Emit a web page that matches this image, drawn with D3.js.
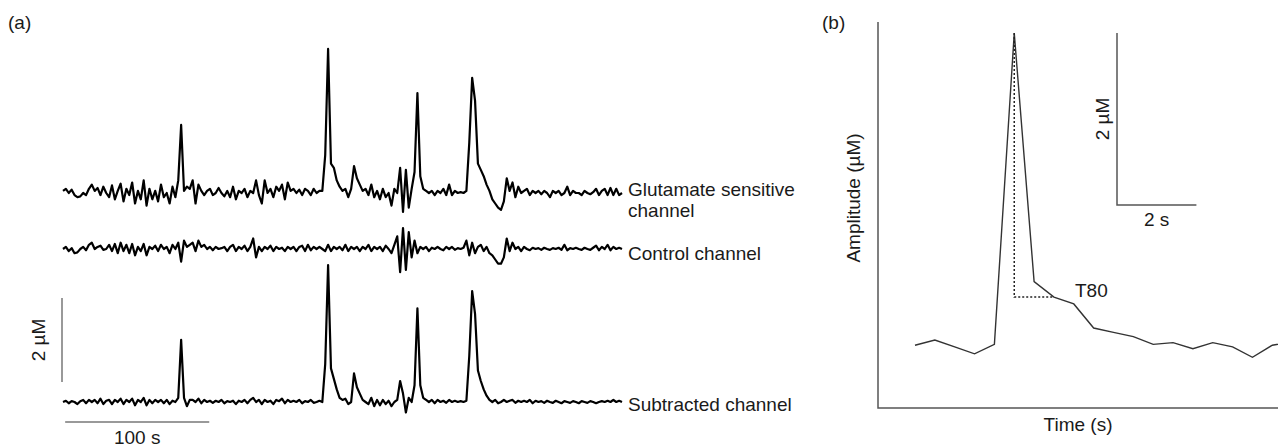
<!DOCTYPE html>
<html>
<head>
<meta charset="utf-8">
<script src="https://cdn.jsdelivr.net/npm/d3@7"></script>
<style>
  body { margin: 0; background: #fff; }
  text { font-family: "Liberation Sans", Arial, sans-serif; fill: #1a1a1a; }
</style>
</head>
<body>
<div id="chart"></div>
<script>
// samples every 2 s, amplitude in uM relative to each trace's baseline
var sampleStep = 2;

var glutamate = [
  0.05, 0.1, 0.0, 0.08, -0.05, -0.1, -0.08, 0.0, -0.05, 0.1,
  0.2, 0.05, 0.12, -0.05, 0.15, 0.0, -0.1, 0.18, -0.15, 0.05,
  0.22, -0.2, 0.1, -0.05, 0.25, -0.25, 0.05, -0.15, 0.3, -0.3,
  0.1, -0.15, 0.05, -0.2, 0.2, -0.1, 0.0, -0.25, 0.15, -0.1,
  0.3, 1.62, 0.05, 0.15, 0.1, 0.3, -0.25, 0.2, 0.05, -0.05,
  0.05, 0.1, -0.05, 0.0, 0.12, 0.0, -0.08, 0.05, -0.1, 0.15,
  -0.15, 0.05, 0.0, 0.1, -0.1, 0.05, 0.0, 0.3, -0.05, -0.25,
  0.3, 0.0, 0.1, -0.1, 0.15, 0.05, 0.2, -0.15, 0.25, 0.05,
  0.1, 0.0, 0.08, -0.05, 0.1, 0.05, -0.05, 0.1, 0.0, 0.05,
  0.05, 0.9, 3.43, 0.7, 0.6, 0.3, 0.15, 0.05, 0.1, -0.1,
  0.1, 0.64, 0.35, 0.2, 0.05, 0.1, -0.05, 0.2, -0.1, 0.05,
  -0.15, 0.1, -0.1, 0.0, -0.3, 0.1, 0.0, 0.6, -0.45, 0.55,
  -0.35, 0.1, 0.5, 2.38, 0.4, 0.1, 0.05, 0.0, 0.05, -0.05,
  0.05, 0.0, 0.1, -0.05, 0.2, -0.05, 0.05, 0.0, 0.02, 0.0,
  0.05, 1.2, 2.74, 2.2, 0.7, 0.55, 0.4, 0.2, 0.05, -0.15,
  -0.25, -0.35, -0.4, -0.2, 0.35, 0.05, 0.25, -0.1, 0.15, 0.0,
  0.05, 0.1, -0.05, 0.05, 0.0, 0.05, -0.03, 0.05, 0.0, -0.1,
  0.05, 0.0, 0.05, -0.05, 0.0, 0.15, -0.05, 0.05, 0.0, 0.0,
  -0.05, 0.05, 0.0, -0.03, 0.02, 0.1, -0.05, 0.05, 0.1, -0.05,
  0.12, -0.05, 0.1, -0.05, 0.0
];

var control = [
  0.0, 0.05, -0.05, 0.02, -0.1, -0.08, 0.0, 0.05, -0.03, 0.1,
  0.15, 0.0, 0.05, 0.08, -0.02, 0.0, 0.1, -0.05, 0.12, -0.1,
  0.15, -0.05, 0.1, -0.1, 0.12, -0.15, 0.05, -0.05, 0.12, -0.15,
  0.05, 0.0, 0.08, -0.05, 0.1, 0.0, 0.05, -0.1, 0.1, 0.0,
  0.15, -0.3, 0.2, 0.05, 0.1, 0.15, -0.05, 0.2, 0.05, 0.1,
  0.0, 0.05, -0.03, 0.05, 0.0, 0.02, 0.05, -0.05, 0.05, 0.1,
  -0.05, 0.05, 0.0, 0.08, -0.05, 0.05, 0.25, -0.2, 0.05, -0.05,
  0.05, 0.0, 0.08, -0.05, 0.05, 0.0, 0.03, -0.05, 0.05, 0.0,
  0.05, -0.05, 0.05, 0.08, -0.05, 0.1, -0.03, 0.05, 0.0, 0.05,
  0.0, -0.05, 0.1, -0.05, 0.05, 0.0, 0.05, -0.03, 0.1, -0.05,
  0.05, 0.0, 0.05, -0.05, 0.05, 0.0, 0.1, -0.05, 0.05, 0.0,
  0.05, -0.05, 0.08, 0.0, -0.1, 0.1, 0.3, -0.55, 0.5, -0.5,
  0.4, -0.2, 0.2, -0.1, 0.05, 0.0, 0.05, -0.05, 0.03, 0.0,
  0.05, 0.0, -0.03, 0.05, 0.0, 0.05, -0.02, 0.02, 0.0, 0.03,
  0.2, -0.15, 0.15, -0.1, 0.05, 0.1, -0.05, 0.05, -0.1, -0.15,
  -0.25, -0.35, -0.35, -0.2, 0.25, -0.05, 0.15, 0.0, 0.05, -0.05,
  0.05, 0.0, -0.03, 0.03, 0.0, 0.02, -0.02, 0.03, 0.0, -0.02,
  0.02, 0.0, 0.03, -0.02, 0.1, -0.03, 0.02, 0.0, 0.03, 0.0,
  -0.02, 0.03, 0.0, -0.02, 0.03, 0.08, -0.03, 0.05, 0.0, 0.1,
  -0.03, 0.05, 0.0, 0.03, 0.0
];

var subtracted = [
  0.0, 0.03, -0.03, 0.02, 0.0, -0.05, 0.02, 0.05, -0.03, 0.05,
  0.0, 0.05, -0.03, 0.08, -0.05, 0.03, 0.05, -0.05, 0.05, 0.0,
  0.08, -0.05, 0.05, 0.0, 0.08, -0.08, 0.05, 0.0, 0.1, -0.08,
  0.05, -0.03, 0.05, 0.0, 0.05, -0.03, 0.05, -0.05, 0.03, 0.0,
  0.1, 1.48, 0.1, -0.1, 0.05, 0.05, 0.0, 0.08, -0.03, 0.05,
  0.0, 0.03, -0.02, 0.03, 0.0, 0.05, -0.03, 0.02, 0.0, 0.03,
  -0.05, 0.03, 0.0, 0.05, -0.03, 0.05, 0.1, 0.0, 0.05, -0.05,
  0.05, 0.0, 0.03, -0.05, 0.05, 0.02, 0.08, -0.03, 0.05, 0.0,
  0.03, 0.0, 0.05, -0.03, 0.02, 0.0, 0.05, -0.02, 0.0, 0.03,
  0.0, 0.9, 3.26, 0.8, 0.55, 0.3, 0.1, 0.05, 0.08, -0.05,
  0.0, 0.68, 0.35, 0.2, 0.05, 0.0, -0.05, 0.1, -0.1, 0.05,
  -0.08, 0.05, -0.05, 0.03, -0.1, 0.0, 0.05, 0.5, 0.2, -0.25,
  0.1, 0.0, 0.4, 2.23, 0.4, 0.1, 0.05, 0.0, 0.05, -0.03,
  0.05, 0.0, 0.03, -0.02, 0.05, 0.0, 0.03, 0.0, 0.02, 0.0,
  0.03, 1.1, 2.64, 2.1, 0.75, 0.5, 0.3, 0.15, 0.05, 0.0,
  0.05, -0.03, 0.0, 0.05, 0.0, 0.03, 0.05, -0.02, 0.03, 0.0,
  0.03, 0.0, 0.05, -0.03, 0.03, 0.0, 0.02, -0.02, 0.03, 0.0,
  -0.02, 0.03, 0.0, -0.03, 0.02, 0.0, -0.02, 0.02, 0.0, -0.03,
  0.02, 0.0, -0.02, 0.02, 0.0, -0.03, 0.0, 0.02, 0.0, 0.03,
  0.0, 0.05, 0.0, 0.03, 0.0
];

var traceNames = ["Glutamate sensitive channel", "Control channel", "Subtracted channel"];

// panel (b): one transient, samples every 0.5 s, amplitude in uM above the x axis
var transientStep = 0.5;
var transient = [0.73, 0.79, 0.71, 0.63, 0.74, 4.36, 1.47, 1.29, 1.21, 0.93,
                 0.88, 0.83, 0.74, 0.76, 0.69, 0.76, 0.71, 0.59, 0.73, 0.77];
var t80Level = 1.29, t80Time = 3.5, peakTime = 2.5;

(function() {
  var width = 1278, height = 448;

  var svg = d3.select("#chart").append("svg")
              .attr("width", width)
              .attr("height", height);

  /* ---------- panel (a) ---------- */
  var x = d3.scaleLinear().domain([0, 388]).range([63, 622]);
  var y = d3.scaleLinear().domain([0, 1]).range([0, -42]); // relative to trace baseline
  var baselines = [193, 249, 402];

  var line = d3.line()
      .x(function(d, i) { return x(i * sampleStep); })
      .y(function(d) { return y(d); });

  var traces = svg.selectAll(".trace")
      .data([glutamate, control, subtracted])
      .enter().append("g")
      .attr("class", "trace")
      .attr("transform", function(d, i) { return "translate(0," + baselines[i] + ")"; });

  traces.append("path")
      .attr("d", line)
      .attr("fill", "none")
      .attr("stroke", "#000")
      .attr("stroke-width", 2.2)
      .attr("stroke-linejoin", "round");

  var fs = "19px";
  // trace labels
  svg.append("text").attr("x", 628).attr("y", 196).style("font-size", fs).text("Glutamate sensitive");
  svg.append("text").attr("x", 628).attr("y", 217).style("font-size", fs).text("channel");
  svg.append("text").attr("x", 628).attr("y", 260).style("font-size", fs).text(traceNames[1]);
  svg.append("text").attr("x", 628).attr("y", 411).style("font-size", fs).text(traceNames[2]);

  // scale bars
  var barY0 = 382, barX0 = x(1.5);
  svg.append("line")
      .attr("x1", 62).attr("x2", 62)
      .attr("y1", barY0).attr("y2", barY0 + y(2))
      .attr("stroke", "#777").attr("stroke-width", 1.5);
  svg.append("line")
      .attr("x1", barX0).attr("x2", barX0 + x(100) - x(0))
      .attr("y1", 422).attr("y2", 422)
      .attr("stroke", "#777").attr("stroke-width", 1.5);
  svg.append("text")
      .attr("transform", "translate(45," + (barY0 + y(1)) + ") rotate(-90)")
      .attr("text-anchor", "middle").style("font-size", fs).text("2 µM");
  svg.append("text")
      .attr("x", barX0 + (x(100) - x(0)) / 2).attr("y", 444)
      .attr("text-anchor", "middle").style("font-size", fs).text("100 s");

  svg.append("text").attr("x", 8).attr("y", 29).style("font-size", "19px").text("(a)");

  /* ---------- panel (b) ---------- */
  var xb = d3.scaleLinear().domain([0, 1]).range([915, 954.7]);
  var yb = d3.scaleLinear().domain([0, 1]).range([408, 322]);

  // frame
  svg.append("path")
      .attr("d", "M878,22V408H1278")
      .attr("fill", "none").attr("stroke", "#555").attr("stroke-width", 1.5);

  var lineB = d3.line()
      .x(function(d, i) { return xb(i * transientStep); })
      .y(function(d) { return yb(d); });

  svg.append("path")
      .datum(transient)
      .attr("d", lineB)
      .attr("fill", "none")
      .attr("stroke", "#333")
      .attr("stroke-width", 1.4);

  // T80 marker
  var peakVal = d3.max(transient);
  svg.append("path")
      .attr("d", d3.line()([[xb(peakTime), yb(peakVal)], [xb(peakTime), yb(t80Level)], [xb(t80Time), yb(t80Level)]]))
      .attr("fill", "none").attr("stroke", "#222")
      .attr("stroke-width", 1.5).attr("stroke-dasharray", "2,2");
  svg.append("text").attr("x", 1075).attr("y", 297).style("font-size", fs).text("T80");

  // scale bar b
  var sbX = 1117, sbY = 205;
  svg.append("path")
      .attr("d", "M" + sbX + "," + (sbY - (yb(0) - yb(2))) + "V" + sbY + "H" + (sbX + xb(2) - xb(0)))
      .attr("fill", "none").attr("stroke", "#555").attr("stroke-width", 1.5);
  svg.append("text")
      .attr("transform", "translate(1109," + (sbY - (yb(0) - yb(1))) + ") rotate(-90)")
      .attr("text-anchor", "middle").style("font-size", fs).text("2 µM");
  svg.append("text")
      .attr("x", sbX + (xb(2) - xb(0)) / 2).attr("y", 226)
      .attr("text-anchor", "middle").style("font-size", fs).text("2 s");

  svg.append("text")
      .attr("transform", "translate(860,198) rotate(-90)")
      .attr("text-anchor", "middle").style("font-size", "19px").text("Amplitude (µM)");
  svg.append("text")
      .attr("x", 1078).attr("y", 431)
      .attr("text-anchor", "middle").style("font-size", "19px").text("Time (s)");

  svg.append("text").attr("x", 822).attr("y", 29).style("font-size", "19px").text("(b)");
})();
</script>
</body>
</html>
